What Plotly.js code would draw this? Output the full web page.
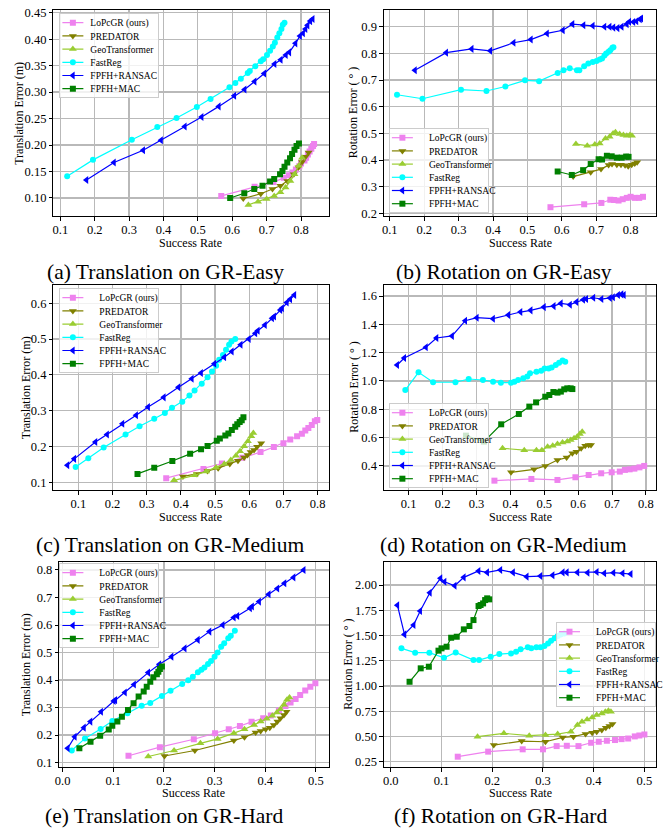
<!DOCTYPE html>
<html>
<head>
<meta charset="utf-8">
<script src="https://cdn.plot.ly/plotly-3.0.1.min.js"></script>
<style>
  html, body { margin: 0; padding: 0; background: #fff; }
  #chart { width: 670px; height: 828px; }
</style>
</head>
<body>
<div id="chart"></div>
<script>
// ---------------- data ----------------
const methods = ["LoPcGR (ours)", "PREDATOR", "GeoTransformer", "FastReg", "FPFH+RANSAC", "FPFH+MAC"];
const captions = ["(a) Translation on GR-Easy", "(b) Rotation on GR-Easy",
                  "(c) Translation on GR-Medium", "(d) Rotation on GR-Medium",
                  "(e) Translation on GR-Hard", "(f) Rotation on GR-Hard"];
const xTitle = "Success Rate";
const yTitleT = "Translation Error (m)";
const yTitleR = "Rotation Error ( ° )";

// (a) Translation, GR-Easy
const aX = [
  [0.568,0.665,0.72,0.75,0.765,0.775,0.785,0.795,0.80,0.81,0.815,0.82,0.825,0.83,0.835,0.838],
  [0.632,0.683,0.717,0.74,0.76,0.779,0.793,0.803,0.813,0.822],
  [0.647,0.675,0.70,0.722,0.74,0.755,0.769,0.781,0.793,0.803],
  [0.12,0.195,0.308,0.382,0.438,0.497,0.537,0.592,0.609,0.625,0.645,0.651,0.667,0.683,0.69,0.701,0.71,0.718,0.724,0.731,0.737,0.743,0.747,0.752],
  [0.176,0.256,0.341,0.393,0.462,0.511,0.561,0.606,0.636,0.665,0.693,0.723,0.741,0.756,0.766,0.784,0.797,0.806,0.813,0.819,0.827,0.834],
  [0.594,0.635,0.664,0.688,0.71,0.722,0.739,0.746,0.752,0.76,0.768,0.774,0.781,0.787,0.794]
];
const aY = [
  [0.104,0.121,0.13,0.138,0.143,0.148,0.154,0.16,0.165,0.171,0.176,0.182,0.188,0.193,0.198,0.202],
  [0.099,0.108,0.117,0.123,0.132,0.145,0.158,0.168,0.178,0.186],
  [0.087,0.093,0.098,0.104,0.111,0.12,0.132,0.145,0.161,0.176],
  [0.141,0.172,0.21,0.234,0.251,0.272,0.287,0.309,0.317,0.325,0.336,0.34,0.349,0.358,0.362,0.37,0.378,0.386,0.393,0.403,0.411,0.419,0.427,0.431],
  [0.134,0.167,0.19,0.209,0.235,0.253,0.273,0.293,0.305,0.32,0.335,0.353,0.361,0.37,0.375,0.392,0.406,0.411,0.419,0.426,0.434,0.438],
  [0.10,0.109,0.117,0.123,0.131,0.136,0.145,0.151,0.159,0.167,0.175,0.183,0.191,0.198,0.203]
];

// (b) Rotation, GR-Easy
const bX = [
  [0.567,0.665,0.715,0.741,0.752,0.765,0.777,0.789,0.80,0.812,0.825,0.836],
  [0.633,0.684,0.714,0.736,0.746,0.76,0.772,0.784,0.793,0.803,0.812,0.819],
  [0.641,0.674,0.696,0.71,0.727,0.739,0.749,0.756,0.768,0.779,0.789,0.798,0.804],
  [0.121,0.195,0.307,0.381,0.436,0.493,0.534,0.588,0.605,0.623,0.644,0.651,0.665,0.677,0.69,0.701,0.71,0.717,0.724,0.729,0.736,0.741,0.747,0.75],
  [0.173,0.264,0.338,0.392,0.46,0.51,0.557,0.603,0.631,0.663,0.69,0.724,0.739,0.75,0.762,0.774,0.789,0.796,0.808,0.817,0.827,0.831],
  [0.588,0.629,0.662,0.684,0.707,0.717,0.731,0.745,0.76,0.774,0.787,0.794]
];
const bY = [
  [0.223,0.234,0.239,0.251,0.25,0.248,0.253,0.258,0.262,0.258,0.258,0.262],
  [0.338,0.354,0.366,0.381,0.385,0.382,0.382,0.38,0.377,0.382,0.387,0.392],
  [0.46,0.454,0.458,0.462,0.481,0.487,0.50,0.504,0.498,0.494,0.491,0.494,0.491],
  [0.645,0.63,0.664,0.659,0.676,0.699,0.696,0.727,0.737,0.744,0.737,0.737,0.752,0.762,0.768,0.772,0.777,0.781,0.792,0.80,0.806,0.812,0.821,0.823],
  [0.737,0.803,0.817,0.81,0.84,0.852,0.875,0.887,0.91,0.906,0.904,0.90,0.90,0.897,0.895,0.90,0.91,0.919,0.918,0.921,0.928,0.931],
  [0.357,0.344,0.362,0.385,0.403,0.402,0.416,0.414,0.409,0.409,0.413,0.412]
];

// (c) Translation, GR-Medium
const cX = [
  [0.357,0.466,0.52,0.58,0.633,0.672,0.70,0.72,0.74,0.754,0.764,0.773,0.783,0.792,0.799],
  [0.406,0.447,0.478,0.509,0.543,0.567,0.585,0.595,0.604,0.614,0.623,0.635],
  [0.38,0.44,0.474,0.503,0.527,0.546,0.561,0.573,0.585,0.596,0.606,0.612],
  [0.092,0.129,0.174,0.238,0.279,0.322,0.353,0.374,0.404,0.425,0.44,0.461,0.478,0.491,0.503,0.512,0.523,0.532,0.541,0.548,0.559],
  [0.068,0.088,0.15,0.184,0.229,0.269,0.304,0.35,0.393,0.432,0.459,0.498,0.527,0.549,0.575,0.599,0.618,0.625,0.646,0.667,0.673,0.691,0.696,0.71,0.72,0.732],
  [0.273,0.322,0.375,0.427,0.459,0.478,0.505,0.514,0.53,0.539,0.549,0.559,0.565,0.572,0.578,0.583]
];
const cY = [
  [0.111,0.137,0.152,0.168,0.184,0.198,0.209,0.219,0.228,0.235,0.244,0.251,0.26,0.27,0.274],
  [0.116,0.123,0.131,0.139,0.151,0.16,0.169,0.176,0.184,0.19,0.199,0.209],
  [0.105,0.119,0.13,0.141,0.151,0.162,0.174,0.186,0.20,0.214,0.228,0.237],
  [0.142,0.167,0.197,0.233,0.256,0.277,0.293,0.308,0.325,0.342,0.356,0.375,0.393,0.409,0.425,0.442,0.455,0.47,0.484,0.493,0.50],
  [0.147,0.165,0.212,0.233,0.263,0.287,0.31,0.337,0.365,0.389,0.405,0.431,0.449,0.465,0.484,0.50,0.516,0.523,0.539,0.558,0.563,0.581,0.586,0.602,0.611,0.623],
  [0.123,0.14,0.159,0.179,0.192,0.201,0.216,0.222,0.23,0.236,0.246,0.255,0.262,0.268,0.273,0.281]
];

// (d) Rotation, GR-Medium
const dX = [
  [0.353,0.462,0.539,0.592,0.631,0.668,0.699,0.723,0.738,0.752,0.766,0.781,0.795],
  [0.402,0.47,0.503,0.539,0.566,0.583,0.595,0.609,0.621,0.631,0.638],
  [0.377,0.441,0.477,0.493,0.51,0.525,0.539,0.554,0.568,0.578,0.588,0.597,0.605,0.612],
  [0.09,0.129,0.172,0.238,0.277,0.319,0.349,0.372,0.402,0.412,0.423,0.438,0.45,0.458,0.477,0.491,0.501,0.513,0.522,0.534,0.544,0.554,0.562],
  [0.066,0.087,0.151,0.182,0.228,0.267,0.301,0.349,0.394,0.43,0.46,0.499,0.528,0.549,0.576,0.595,0.615,0.624,0.645,0.669,0.694,0.703,0.718,0.728,0.735],
  [0.269,0.322,0.373,0.425,0.456,0.476,0.503,0.515,0.527,0.539,0.549,0.559,0.568,0.578,0.583]
];
const dY = [
  [0.296,0.308,0.301,0.32,0.336,0.348,0.355,0.36,0.372,0.376,0.381,0.39,0.40],
  [0.355,0.376,0.40,0.442,0.459,0.489,0.501,0.525,0.543,0.548,0.548],
  [0.525,0.511,0.511,0.511,0.536,0.543,0.555,0.565,0.572,0.584,0.595,0.607,0.626,0.642],
  [0.936,1.061,0.991,0.991,1.014,1.007,0.995,0.988,0.988,0.995,1.007,1.019,1.031,1.054,1.066,1.073,1.089,1.089,1.096,1.113,1.129,1.144,1.136],
  [1.113,1.162,1.238,1.304,1.318,1.426,1.447,1.44,1.466,1.487,1.499,1.522,1.529,1.548,1.539,1.558,1.574,1.579,1.588,1.579,1.586,1.591,1.607,1.612,1.607],
  [0.614,0.572,0.694,0.767,0.819,0.849,0.889,0.901,0.922,0.918,0.925,0.941,0.948,0.948,0.943]
];

// (e) Translation, GR-Hard
const eX = [
  [0.13,0.192,0.259,0.301,0.328,0.35,0.373,0.396,0.411,0.427,0.44,0.45,0.46,0.469,0.479,0.489,0.499],
  [0.201,0.261,0.338,0.359,0.381,0.391,0.401,0.409,0.417,0.424,0.43,0.437,0.442],
  [0.169,0.22,0.272,0.306,0.338,0.359,0.378,0.391,0.403,0.414,0.423,0.43,0.437,0.443,0.448],
  [0.018,0.044,0.075,0.098,0.128,0.156,0.173,0.196,0.213,0.236,0.248,0.257,0.267,0.274,0.28,0.287,0.293,0.30,0.306,0.313,0.319,0.327,0.332,0.34],
  [0.01,0.024,0.042,0.055,0.076,0.101,0.104,0.123,0.141,0.169,0.191,0.215,0.241,0.267,0.29,0.316,0.338,0.345,0.37,0.374,0.388,0.407,0.424,0.438,0.456,0.476],
  [0.033,0.055,0.074,0.091,0.098,0.108,0.117,0.129,0.14,0.15,0.16,0.166,0.173,0.179,0.186,0.189,0.192,0.196]
];
const eY = [
  [0.125,0.156,0.185,0.207,0.221,0.233,0.248,0.261,0.271,0.289,0.306,0.318,0.331,0.346,0.362,0.376,0.388],
  [0.124,0.144,0.18,0.192,0.209,0.215,0.221,0.227,0.237,0.249,0.261,0.273,0.285],
  [0.122,0.144,0.17,0.186,0.207,0.221,0.237,0.249,0.259,0.27,0.282,0.294,0.31,0.328,0.337],
  [0.144,0.188,0.222,0.251,0.279,0.307,0.317,0.342,0.361,0.386,0.399,0.412,0.428,0.437,0.446,0.458,0.469,0.485,0.50,0.521,0.534,0.552,0.561,0.579],
  [0.152,0.194,0.227,0.249,0.285,0.324,0.327,0.355,0.384,0.427,0.457,0.485,0.515,0.546,0.576,0.60,0.627,0.633,0.661,0.667,0.685,0.712,0.733,0.752,0.773,0.80],
  [0.152,0.176,0.198,0.22,0.234,0.249,0.267,0.291,0.316,0.34,0.358,0.376,0.394,0.41,0.421,0.43,0.44,0.449]
];

// (f) Rotation, GR-Hard
const fX = [
  [0.132,0.192,0.26,0.30,0.327,0.347,0.37,0.395,0.41,0.426,0.442,0.455,0.468,0.481,0.49,0.50],
  [0.203,0.258,0.305,0.339,0.36,0.384,0.397,0.406,0.416,0.424,0.431,0.437],
  [0.171,0.223,0.273,0.305,0.329,0.355,0.368,0.377,0.387,0.397,0.406,0.416,0.423,0.429,0.434],
  [0.021,0.048,0.076,0.105,0.128,0.163,0.174,0.197,0.214,0.237,0.247,0.256,0.27,0.277,0.287,0.295,0.303,0.31,0.316,0.323,0.329,0.335,0.342],
  [0.013,0.027,0.045,0.058,0.077,0.098,0.106,0.126,0.144,0.173,0.19,0.216,0.241,0.268,0.295,0.319,0.339,0.347,0.368,0.388,0.406,0.421,0.439,0.457,0.473],
  [0.037,0.059,0.075,0.094,0.10,0.11,0.119,0.13,0.144,0.155,0.163,0.173,0.177,0.182,0.186,0.19,0.194]
];
const fY = [
  [0.30,0.35,0.373,0.373,0.405,0.408,0.405,0.438,0.448,0.458,0.465,0.474,0.48,0.501,0.51,0.52],
  [0.415,0.455,0.448,0.491,0.498,0.524,0.537,0.547,0.564,0.587,0.603,0.623],
  [0.498,0.531,0.508,0.514,0.524,0.547,0.613,0.646,0.669,0.689,0.712,0.729,0.745,0.755,0.745],
  [1.373,1.33,1.33,1.28,1.333,1.257,1.257,1.29,1.316,1.323,1.34,1.363,1.383,1.373,1.383,1.383,1.396,1.422,1.449,1.472,1.495,1.511,1.521],
  [1.80,1.511,1.604,1.742,1.924,2.066,2.033,1.993,2.076,2.139,2.125,2.149,2.125,2.083,2.089,2.096,2.125,2.125,2.125,2.122,2.129,2.116,2.122,2.116,2.109],
  [1.042,1.175,1.191,1.35,1.373,1.389,1.478,1.488,1.561,1.594,1.653,1.792,1.802,1.818,1.851,1.868,1.858]
];

// axis tick values
const xTicks08 = [0.1,0.2,0.3,0.4,0.5,0.6,0.7,0.8];
const xTicks05 = [0.0,0.1,0.2,0.3,0.4,0.5];
const yTicksA = [0.10,0.15,0.20,0.25,0.30,0.35,0.40,0.45];
const yTicksB = [0.2,0.3,0.4,0.5,0.6,0.7,0.8,0.9];
const yTicksC = [0.1,0.2,0.3,0.4,0.5,0.6];
const yTicksD = [0.4,0.6,0.8,1.0,1.2,1.4,1.6];
const yTicksE = [0.1,0.2,0.3,0.4,0.5,0.6,0.7,0.8];
const yTicksF = [0.25,0.50,0.75,1.00,1.25,1.50,1.75,2.00];

// ---------------- styling ----------------
const W = 670, H = 828;
const FONT = "Liberation Serif, Times New Roman, serif";
const colors = ["#EE82EE", "#808000", "#9ACD32", "#00FFFF", "#0000FF", "#008000"];
const symbols = ["square", "triangle-down", "triangle-up", "circle", "triangle-left", "square"];
const msize = [6, 7, 7, 6, 7, 6];

// panel geometry in pixels: [left, right, top, bottom]
const boxes = [
  [54, 332, 10, 216], [388, 663, 10, 216],
  [54, 332, 285, 490], [388, 663, 285, 490],
  [60, 332, 562, 767], [388, 663, 562, 767]
];
// x-title centre offset, caption centre offset (below plot bottom), caption centre x
const xTitleOff = [27, 27, 27, 27, 26, 26];
const capOff = [56, 56, 55, 55, 49, 49];
const capX = [167, 509, 172, 509, 166, 506];

const panels = [
  {X: aX, Y: aY, xr: [0.08, 0.88], yr: [0.066, 0.455], xt: xTicks08, yt: yTicksA, yf: ".2f", yTitle: yTitleT, yTitleX: 19, leg: [60, 13]},
  {X: bX, Y: bY, xr: [0.083, 0.874], yr: [0.19, 0.963], xt: xTicks08, yt: yTicksB, yf: ".1f", yTitle: yTitleR, yTitleX: 357, leg: [393, 128]},
  {X: cX, Y: cY, xr: [0.027, 0.832], yr: [0.078, 0.651], xt: xTicks08, yt: yTicksC, yf: ".1f", yTitle: yTitleT, yTitleX: 26, leg: [60, 288]},
  {X: dX, Y: dY, xr: [0.027, 0.83], yr: [0.23, 1.678], xt: xTicks08, yt: yTicksD, yf: ".1f", yTitle: yTitleR, yTitleX: 357, leg: [393, 403]},
  {X: eX, Y: eY, xr: [-0.0065, 0.525], yr: [0.084, 0.829], xt: xTicks05, yt: yTicksE, yf: ".1f", yTitle: yTitleT, yTitleX: 26, leg: [60, 563]},
  {X: fX, Y: fY, xr: [-0.0135, 0.523], yr: [0.198, 2.228], xt: xTicks05, yt: yTicksF, yf: ".2f", yTitle: yTitleR, yTitleX: 351, leg: [562, 622]}
];

const data = [];
const layout = {
  width: W, height: H,
  margin: {l: 0, r: 0, t: 0, b: 0},
  paper_bgcolor: "#fff", plot_bgcolor: "#fff",
  font: {family: FONT, color: "#000", size: 12},
  showlegend: true,
  annotations: []
};

panels.forEach((p, i) => {
  const n = i + 1;
  const xa = n === 1 ? "x" : "x" + n;
  const ya = n === 1 ? "y" : "y" + n;
  const legName = n === 1 ? "legend" : "legend" + n;
  const b = boxes[i];
  const axCommon = {
    showline: true, mirror: true, linecolor: "#000", linewidth: 1,
    ticks: "outside", ticklen: 3.5, tickwidth: 1, tickcolor: "#000",
    showgrid: true, gridcolor: "#b9b9b9", gridwidth: 1.2,
    zeroline: false, tickfont: {family: FONT, size: 12.5, color: "#000"},
    tickmode: "array", fixedrange: true
  };
  layout["xaxis" + (n === 1 ? "" : n)] = Object.assign({}, axCommon, {
    domain: [b[0] / W, b[1] / W], range: p.xr, anchor: ya,
    tickvals: p.xt, tickformat: ".1f", ticklabelstandoff: -2
  });
  layout["yaxis" + (n === 1 ? "" : n)] = Object.assign({}, axCommon, {
    domain: [1 - b[3] / H, 1 - b[2] / H], range: p.yr, anchor: xa,
    tickvals: p.yt, tickformat: p.yf
  });
  layout[legName] = {
    x: p.leg[0] / W, y: 1 - p.leg[1] / H, xref: "paper", yref: "paper",
    xanchor: "left", yanchor: "top",
    bgcolor: "rgba(255,255,255,0.8)", bordercolor: "#cccccc", borderwidth: 1,
    font: {family: FONT, size: 9.5, color: "#000"},
    tracegroupgap: 0, itemwidth: 30
  };
  methods.forEach((m, k) => {
    data.push({
      type: "scatter", mode: "lines+markers", name: m,
      x: p.X[k], y: p.Y[k], xaxis: xa, yaxis: ya, legend: legName,
      line: {color: colors[k], width: 1.2},
      marker: {symbol: symbols[k], size: msize[k], color: colors[k]},
      cliponaxis: true
    });
  });
  const cx = (b[0] + b[1]) / 2;
  layout.annotations.push({
    text: xTitle, xref: "paper", yref: "paper", x: cx / W, y: 1 - (b[3] + xTitleOff[i]) / H,
    xanchor: "center", yanchor: "middle", showarrow: false,
    font: {family: FONT, size: 12, color: "#000"}
  });
  layout.annotations.push({
    text: p.yTitle, xref: "paper", yref: "paper", x: p.yTitleX / W, y: 1 - ((b[2] + b[3]) / 2) / H,
    xanchor: "center", yanchor: "middle", showarrow: false, textangle: -90,
    font: {family: FONT, size: 12, color: "#000"}
  });
  layout.annotations.push({
    text: captions[i], xref: "paper", yref: "paper", x: capX[i] / W, y: 1 - (b[3] + capOff[i]) / H,
    xanchor: "center", yanchor: "middle", showarrow: false,
    font: {family: FONT, size: 21.5, color: "#000"}
  });
});

// make the legends as compact as the matplotlib-style reference (row pitch ~13px)
function compactLegends() {
  const ROW = 13.2, TOP = 9.7, BOTTOM = 8.6, BOXW = 99;
  const legs = document.querySelectorAll('.infolayer > g[class^="legend"]');
  legs.forEach(leg => {
    const items = leg.querySelectorAll('g.traces');
    if (items.length < 2) return;
    items.forEach((it, k) => {
      it.setAttribute('transform', 'translate(0,' + (TOP + k * ROW) + ')');
      const txt = it.querySelector('text.legendtext');
      if (txt) txt.setAttribute('x', 31);
      const ln = it.querySelector('path.js-line');
      if (ln) ln.setAttribute('d', 'M3,0h21');
      it.querySelectorAll('.legendpoints path').forEach(pt => pt.setAttribute('transform', 'translate(13.5,0)'));
    });
    const bg = leg.querySelector('rect.bg');
    if (bg) {
      bg.setAttribute('height', TOP + (items.length - 1) * ROW + BOTTOM);
      bg.setAttribute('width', BOXW);
    }
  });
}

Plotly.newPlot("chart", data, layout, {displayModeBar: false, staticPlot: true}).then(compactLegends);
</script>
</body>
</html>
